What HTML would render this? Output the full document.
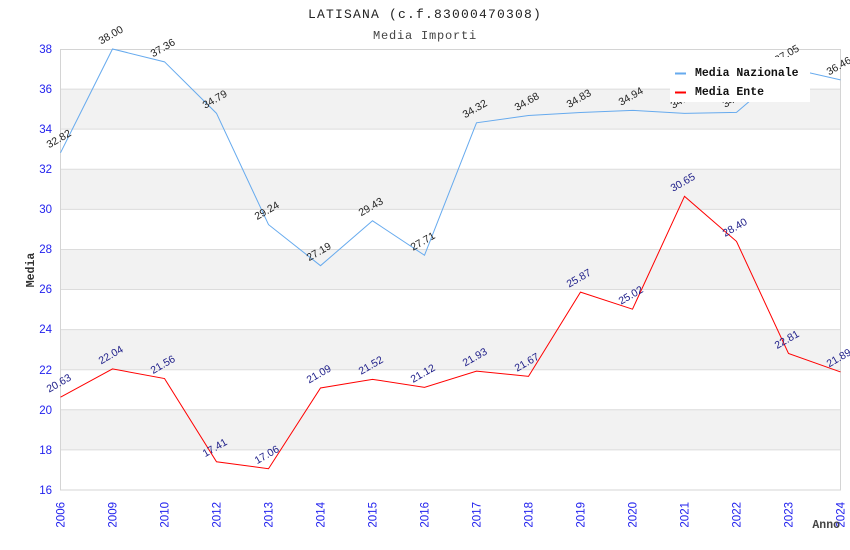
<!DOCTYPE html>
<html><head><meta charset="utf-8"><style>
html,body{margin:0;padding:0;background:#fff;width:850px;height:550px;overflow:hidden}
svg{display:block}
.t{font-family:"Liberation Mono",monospace}
.s{font-family:"Liberation Sans",sans-serif}
</style></head><body>
<svg width="850" height="550" viewBox="0 0 850 550" xmlns="http://www.w3.org/2000/svg">
<rect width="850" height="550" fill="#fff"/>
<text class="t" x="425" y="18" text-anchor="middle" font-size="13" letter-spacing="1.2" fill="#222">LATISANA (c.f.83000470308)</text>
<text class="t" x="425" y="39" text-anchor="middle" font-size="12" letter-spacing="0.8" fill="#444">Media Importi</text>
<g fill="#f2f2f2">
<rect x="60.5" y="89.09" width="780" height="40.09"/>
<rect x="60.5" y="169.27" width="780" height="40.09"/>
<rect x="60.5" y="249.45" width="780" height="40.09"/>
<rect x="60.5" y="329.63" width="780" height="40.09"/>
<rect x="60.5" y="409.81" width="780" height="40.09"/>
</g>
<g stroke="#dcdcdc" stroke-width="1">
<line x1="60.5" x2="840.5" y1="89.09" y2="89.09"/>
<line x1="60.5" x2="840.5" y1="129.18" y2="129.18"/>
<line x1="60.5" x2="840.5" y1="169.27" y2="169.27"/>
<line x1="60.5" x2="840.5" y1="209.36" y2="209.36"/>
<line x1="60.5" x2="840.5" y1="249.45" y2="249.45"/>
<line x1="60.5" x2="840.5" y1="289.54" y2="289.54"/>
<line x1="60.5" x2="840.5" y1="329.63" y2="329.63"/>
<line x1="60.5" x2="840.5" y1="369.72" y2="369.72"/>
<line x1="60.5" x2="840.5" y1="409.81" y2="409.81"/>
<line x1="60.5" x2="840.5" y1="449.9" y2="449.9"/>
</g>
<rect x="60.5" y="49.5" width="780" height="440.5" fill="none" stroke="#d4d4d4" stroke-width="1"/>
<g class="s" font-size="11.5" fill="#2222ee" text-anchor="end">
<text x="52" y="53">38</text><text x="52" y="93">36</text><text x="52" y="133">34</text><text x="52" y="173">32</text>
<text x="52" y="213">30</text><text x="52" y="253">28</text><text x="52" y="293">26</text><text x="52" y="333">24</text>
<text x="52" y="374">22</text><text x="52" y="414">20</text><text x="52" y="454">18</text><text x="52" y="494">16</text>
</g>
<g class="s" font-size="11.5" fill="#2222ee" text-anchor="end">
<text transform="translate(64.5,502) rotate(-90)">2006</text>
<text transform="translate(116.5,502) rotate(-90)">2009</text>
<text transform="translate(168.5,502) rotate(-90)">2010</text>
<text transform="translate(220.5,502) rotate(-90)">2012</text>
<text transform="translate(272.5,502) rotate(-90)">2013</text>
<text transform="translate(324.5,502) rotate(-90)">2014</text>
<text transform="translate(376.5,502) rotate(-90)">2015</text>
<text transform="translate(428.5,502) rotate(-90)">2016</text>
<text transform="translate(480.5,502) rotate(-90)">2017</text>
<text transform="translate(532.5,502) rotate(-90)">2018</text>
<text transform="translate(584.5,502) rotate(-90)">2019</text>
<text transform="translate(636.5,502) rotate(-90)">2020</text>
<text transform="translate(688.5,502) rotate(-90)">2021</text>
<text transform="translate(740.5,502) rotate(-90)">2022</text>
<text transform="translate(792.5,502) rotate(-90)">2023</text>
<text transform="translate(844.5,502) rotate(-90)">2024</text>
</g>
<text class="t" transform="translate(34,270) rotate(-90)" text-anchor="middle" font-size="11.5" font-weight="bold" fill="#333">Media</text>
<text class="t" x="840" y="528" text-anchor="end" font-size="11.5" font-weight="bold" fill="#444">Anno</text>
<polyline fill="none" stroke="#66aaee" stroke-width="1" points="60.5,152.83 112.5,49 164.5,61.83 216.5,113.34 268.5,224.59 320.5,265.69 372.5,220.79 424.5,255.26 476.5,122.77 528.5,115.55 580.5,112.54 632.5,110.34 684.5,113.34 736.5,112.34 788.5,68.04 840.5,79.87"/>
<polyline fill="none" stroke="#ff0000" stroke-width="1" points="60.5,397.18 112.5,368.92 164.5,378.54 216.5,461.73 268.5,468.74 320.5,387.96 372.5,379.34 424.5,387.36 476.5,371.12 528.5,376.33 580.5,292.15 632.5,309.18 684.5,196.33 736.5,241.43 788.5,353.48 840.5,371.92"/>
<g class="s" font-size="10.5" fill="#222" text-anchor="middle">
<text transform="translate(60.5,141.8) rotate(-30)">32.82</text>
<text transform="translate(112.5,38) rotate(-30)">38.00</text>
<text transform="translate(164.5,50.8) rotate(-30)">37.36</text>
<text transform="translate(216.5,102.3) rotate(-30)">34.79</text>
<text transform="translate(268.5,213.6) rotate(-30)">29.24</text>
<text transform="translate(320.5,254.7) rotate(-30)">27.19</text>
<text transform="translate(372.5,209.8) rotate(-30)">29.43</text>
<text transform="translate(424.5,244.3) rotate(-30)">27.71</text>
<text transform="translate(476.5,111.8) rotate(-30)">34.32</text>
<text transform="translate(528.5,104.6) rotate(-30)">34.68</text>
<text transform="translate(580.5,101.5) rotate(-30)">34.83</text>
<text transform="translate(632.5,99.3) rotate(-30)">34.94</text>
<text transform="translate(684.5,102.3) rotate(-30)">34.79</text>
<text transform="translate(736.5,101.3) rotate(-30)">34.84</text>
<text transform="translate(788.5,57) rotate(-30)">37.05</text>
<text transform="translate(840.5,68.9) rotate(-30)">36.46</text>
</g>
<g class="s" font-size="10.5" fill="#1c1c88" text-anchor="middle">
<text transform="translate(60.5,386.2) rotate(-30)">20.63</text>
<text transform="translate(112.5,357.9) rotate(-30)">22.04</text>
<text transform="translate(164.5,367.5) rotate(-30)">21.56</text>
<text transform="translate(216.5,450.7) rotate(-30)">17.41</text>
<text transform="translate(268.5,457.7) rotate(-30)">17.06</text>
<text transform="translate(320.5,377) rotate(-30)">21.09</text>
<text transform="translate(372.5,368.3) rotate(-30)">21.52</text>
<text transform="translate(424.5,376.4) rotate(-30)">21.12</text>
<text transform="translate(476.5,360.1) rotate(-30)">21.93</text>
<text transform="translate(528.5,365.3) rotate(-30)">21.67</text>
<text transform="translate(580.5,281.2) rotate(-30)">25.87</text>
<text transform="translate(632.5,298.2) rotate(-30)">25.02</text>
<text transform="translate(684.5,185.3) rotate(-30)">30.65</text>
<text transform="translate(736.5,230.4) rotate(-30)">28.40</text>
<text transform="translate(788.5,342.5) rotate(-30)">22.81</text>
<text transform="translate(840.5,360.9) rotate(-30)">21.89</text>
</g>
<rect x="670" y="57" width="140" height="45" fill="#fff"/>
<line x1="675" x2="686" y1="73.5" y2="73.5" stroke="#66aaee" stroke-width="2"/>
<line x1="675" x2="686" y1="92.5" y2="92.5" stroke="#ff0000" stroke-width="2"/>
<text class="t" x="695" y="76" font-size="11.5" font-weight="bold" fill="#111">Media Nazionale</text>
<text class="t" x="695" y="95" font-size="11.5" font-weight="bold" fill="#111">Media Ente</text>
</svg>
</body></html>
